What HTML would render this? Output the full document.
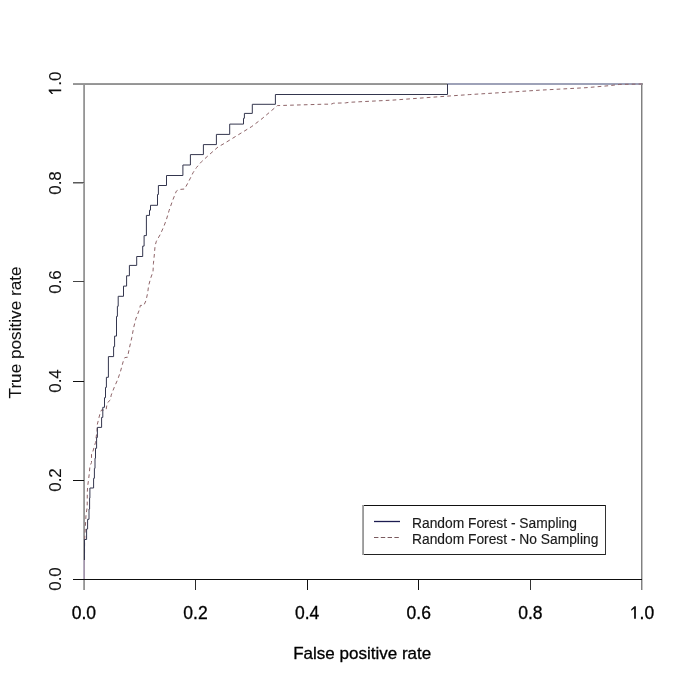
<!DOCTYPE html>
<html><head><meta charset="utf-8"><style>
html,body{margin:0;padding:0;background:#fff;}
svg{display:block;will-change:transform;}
svg text{}
text{font-family:"Liberation Sans",sans-serif;fill:#000;stroke:#000;stroke-width:0.3px;}
.ax{font-size:17px;}
.axr{stroke-width:0.1px;fill:#111;stroke:#111;}
.lg{font-size:13.8px;fill:#1a1a1a;stroke:#1a1a1a;stroke-width:0.15px;}
</style></head><body>
<svg width="685" height="684" viewBox="0 0 685 684">
<rect width="685" height="684" fill="#fff"/>
<rect x="73" y="83" width="570" height="1" fill="#9a9a9a"/>
<rect x="73" y="84" width="570" height="1" fill="#949494"/>
<rect x="83" y="85" width="1" height="505" fill="#a8a8a8"/>
<rect x="84" y="85" width="1" height="505" fill="#959595"/>
<rect x="641" y="85" width="1" height="505" fill="#808080"/>
<rect x="642" y="85" width="1" height="505" fill="#c4c4c4"/>
<rect x="73" y="579" width="569" height="1" fill="#0e0e0e"/>
<rect x="195" y="580" width="1" height="10" fill="#2a2a2a"/>
<rect x="307" y="580" width="1" height="10" fill="#111"/>
<rect x="418" y="580" width="1" height="10" fill="#111"/>
<rect x="530" y="580" width="1" height="10" fill="#333"/>
<rect x="73" y="480" width="11" height="1" fill="#111"/>
<rect x="73" y="381" width="11" height="1" fill="#111"/>
<rect x="73" y="281" width="11" height="1" fill="#444"/>
<rect x="73" y="182" width="11" height="1" fill="#5a5a5a"/>
<rect x="73" y="183" width="11" height="1" fill="#aaaaaa"/>
<rect x="83" y="560" width="1" height="19" fill="#b8b0c0"/>
<rect x="84" y="560" width="1" height="19" fill="#a496ac"/>
<rect x="447" y="83" width="195" height="2" fill="#9ea2b8"/>
<path d="M84.5,560 L84.6,540 L85.2,530 L86,515 L87.2,507 L87.3,492 L87.7,486 L88.6,479.4 L89.3,473.5 L89.9,466.2 L91.5,462.5 L91.5,453.8 L92.5,452.8 L95.5,442.4 L97,430.7 L97.4,424.1 L98.8,418.3 L100.3,412.4 L101.7,409.8 L103.9,410.2 L106.1,409.8 L107.2,403 L110.4,399.9 L111.2,395.1 L114.3,387.2 L117.8,379.3 L120.5,371.4 L123.1,361.8 L124.8,357.6 L127.5,357.2 L129.6,347.1 L131.8,337.5 L133.6,327.8 L135.8,319 L139.7,308.9 L140.3,305.4 L143.8,305.4 L146,300.6 L147.7,292.7 L148.6,285.7 L150.8,277.8 L153,271.7 L153.4,263.8 L154.3,255 L155.1,245.6 L156.4,241.2 L160.4,234.2 L163.9,226.3 L166.5,219.3 L169.1,210.5 L172.8,200 L176.3,191.2 L178.9,189.5 L184.6,189 L187.7,183.3 L190.4,178.1 L193,172.8 L196.5,167.5 L201.8,161.4 L209.6,154.4 L218.1,146.9 L224,143.6 L232.1,138.6 L243,131.9 L251.8,126.5 L262,118.7 L277.4,105.6 L324,104.2 L331,104.2 L333.7,103.2 L345.5,102.9 L349.2,102.3 L393,100.1 L445,96.3 L469.2,94.6 L498.4,92.8 L539.3,90.2 L586,87.7 L609,85.7 L619.8,84.4 L642,84" fill="none" stroke="#8e6468" stroke-width="1.0" stroke-dasharray="3.7 3.15"/>
<path d="M84.5,560 V539.5 H86.6 V529 H87.6 V519.3 H89 V509 H89.6 V498 H89.9 V488 H93.6 V478.3 H94.4 V468.4 H95 V458.2 H95.5 V448.3 H96.6 V437.5 H97.4 V427.4 H101.6 V417.4 H102.8 V407.3 H104.5 V397.7 H105.5 V387.4 H106.4 V377.3 H108.4 V356.6 H113.6 V346.7 H114.6 V336.1 H116.5 V316.4 H117.4 V306.3 H118.2 V296.3 H123.5 V286.1 H126.6 V275.8 H129.4 V265.4 H136.7 V256.5 H142.7 V246.1 H144.1 V235.6 H146.4 V215.4 H149.5 V210.2 H150.5 V205.3 H157.5 V194.5 H158.4 V185.5 H166.5 V175.5 H182.9 V165 H190.4 V154.6 H203.4 V144.6 H216.4 V134.4 H229.7 V124.1 H243.5 V118.3 H244.4 V113.4 H252.3 V104.3 H275.4 V94.5 H447.5 V84" fill="none" stroke="#34364e" stroke-width="1.0"/>
<text transform="translate(83.9,619) scale(1,1.0)" text-anchor="middle" class="ax" style="font-size:17.5px">0.0</text>
<text transform="translate(195.5,619) scale(1,1.0)" text-anchor="middle" class="ax" style="font-size:17.5px">0.2</text>
<text transform="translate(307.1,619) scale(1,1.0)" text-anchor="middle" class="ax" style="font-size:17.5px">0.4</text>
<text transform="translate(418.7,619) scale(1,1.0)" text-anchor="middle" class="ax" style="font-size:17.5px">0.6</text>
<text transform="translate(530.3,619) scale(1,1.0)" text-anchor="middle" class="ax" style="font-size:17.5px">0.8</text>
<text transform="translate(642.0,619) scale(1,1.0)" text-anchor="middle" class="ax" style="font-size:17.5px"><tspan style="fill:none;stroke:none">1</tspan>.0</text>
<path transform="translate(642.0,619)" d="M-7.9,-0.2 L-7.9,-10.3 L-10.8,-8.2 L-10.8,-9.8 L-7.6,-12.7 L-6.1,-12.7 L-6.1,-0.2 Z" fill="#111"/>
<text transform="translate(60.5,579.0) rotate(-90)" x="0" y="0" text-anchor="middle" class="ax axr">0.0</text>
<text transform="translate(60.5,480.0) rotate(-90)" x="0" y="0" text-anchor="middle" class="ax axr">0.2</text>
<text transform="translate(60.5,381.0) rotate(-90)" x="0" y="0" text-anchor="middle" class="ax axr">0.4</text>
<text transform="translate(60.5,282.0) rotate(-90)" x="0" y="0" text-anchor="middle" class="ax axr">0.6</text>
<text transform="translate(60.5,183.0) rotate(-90)" x="0" y="0" text-anchor="middle" class="ax axr">0.8</text>
<text transform="translate(60.5,83.3) rotate(-90)" x="0" y="0" text-anchor="middle" class="ax axr"><tspan style="fill:none;stroke:none">1</tspan>.0</text>
<path transform="translate(61.4,83.3) rotate(-90)" d="M-7.9,-0.2 L-7.9,-10.3 L-10.8,-8.2 L-10.8,-9.8 L-7.6,-12.7 L-6.1,-12.7 L-6.1,-0.2 Z" fill="#111"/>
<text transform="translate(362.2,659.4) scale(1,1.0)" text-anchor="middle" class="ax">False positive rate</text>
<text transform="translate(21,332.4) rotate(-90)" x="0" y="0" text-anchor="middle" class="ax axr" style="font-size:17.2px">True positive rate</text>
<rect x="362" y="505" width="244" height="1" fill="#111"/>
<rect x="362" y="554" width="244" height="1" fill="#222"/>
<rect x="362" y="505" width="1" height="50" fill="#a8a8a8"/>
<rect x="363" y="505" width="1" height="50" fill="#9a9a9a"/>
<rect x="605" y="505" width="1" height="50" fill="#333"/>
<line x1="374" y1="521.5" x2="400" y2="521.5" stroke="#1c1c50" stroke-width="1.3"/>
<line x1="374" y1="537.5" x2="400" y2="537.5" stroke="#7a5a5e" stroke-width="1.2" stroke-dasharray="4.4 2.4"/>
<text x="412" y="527.8" class="lg">Random Forest - Sampling</text>
<text x="412" y="543.8" class="lg">Random Forest - No Sampling</text>
</svg>
</body></html>
